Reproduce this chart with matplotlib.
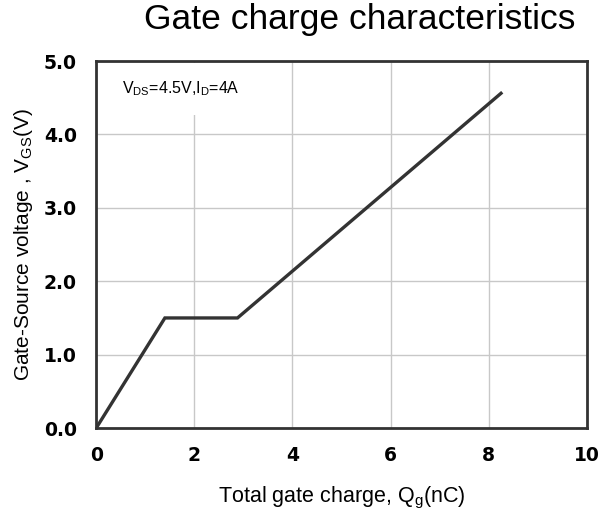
import matplotlib
matplotlib.use("Agg")
import matplotlib.pyplot as plt

# gate charge curve
qg = [0.0, 1.40, 2.88, 8.25]
vgs = [0.0, 1.50, 1.50, 4.56]

xticks = [0, 2, 4, 6, 8, 10]
yticks = [0.0, 1.0, 2.0, 3.0, 4.0, 5.0]

plt.rcParams['font.family'] = ['Liberation Sans', 'DejaVu Sans']
plt.rcParams['mathtext.default'] = 'regular'

fig = plt.figure(figsize=(6.05, 5.17), dpi=100)
ax = fig.add_axes([0.159, 0.172, 0.811, 0.710])

ax.plot(qg, vgs, color='#333333', lw=2.4, solid_joinstyle='miter', zorder=3)

ax.set_xlim(0, 10)
ax.set_ylim(0, 5)
ax.set_xticks(xticks)
ax.set_yticks(yticks)
ax.set_xticklabels([str(t) for t in xticks])
ax.set_yticklabels(['%.1f' % t for t in yticks])
for lab in ax.get_xticklabels() + ax.get_yticklabels():
    lab.set_family(['Liberation Sans Narrow', 'DejaVu Sans'])
    lab.set_fontweight('bold')
    lab.set_fontsize(13.5)
ax.tick_params(length=0, pad=13)
ax.tick_params(axis='y', pad=14)

ax.grid(True, color='#c8c8c8', lw=1.0)
ax.set_axisbelow(True)
for s in ax.spines.values():
    s.set_color('#333333')
    s.set_linewidth(2.0)

fig.text(360 / 605, 1 - 20 / 517, 'Gate charge characteristics', fontsize=25.5,
         ha='center', va='center')
ax.set_xlabel('Total gate charge, Q$_{g}$(nC)', fontsize=15.5, labelpad=14)
ax.set_ylabel('Gate-Source voltage , V$_{GS}$(V)', fontsize=15, labelpad=6)

ax.text(0.52, 4.62, 'V$_{DS}$=4.5V,I$_{D}$=4A', fontsize=11.5, va='center', ha='left',
        bbox=dict(facecolor='white', edgecolor='none', pad=12), zorder=2)

fig.savefig('out.png', dpi=100)
